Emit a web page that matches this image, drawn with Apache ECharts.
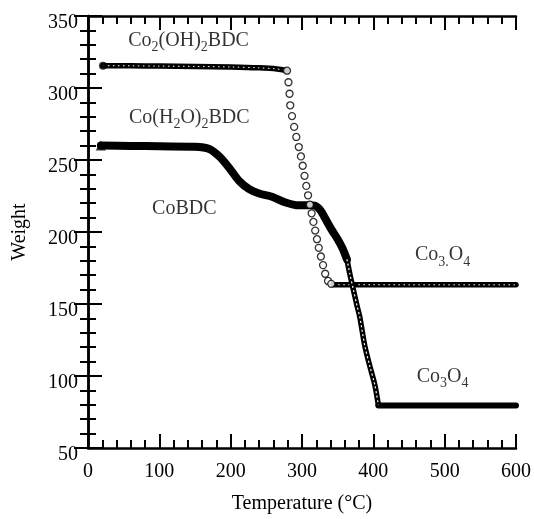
<!DOCTYPE html>
<html>
<head>
<meta charset="utf-8">
<script src="https://cdn.jsdelivr.net/npm/echarts@6/dist/echarts.min.js"></script>
<style>html,body{margin:0;padding:0;background:#fff;}#c{width:534px;height:519px;}</style>
</head>
<body>
<div id="c"></div>
<script>
// ---- Co2(OH)2BDC (open circles) ----
const ohPlateauT = [21, 60, 100, 150, 200, 240, 265, 279];
const ohPlateauW = [315.5, 315.4, 315.2, 315.0, 314.6, 314.0, 313.2, 312.0];
const ohDropT = [281, 282.5, 283.5, 286, 289, 292, 295.5, 298.5, 301, 303.5, 306, 308.5, 311, 313.5, 316, 318.5, 321, 323.5, 326.5, 329.5, 332.5, 336.5, 341];
const ohDropW = [304, 296, 288, 280.5, 273, 266, 259, 252.5, 246, 239, 232, 225.5, 219, 213, 207, 201, 195, 189, 183, 177, 171, 166, 164];
const ohFinalT = [344, 400, 450, 500, 550, 600];
const ohFinalW = [163.4, 163.4, 163.3, 163.3, 163.3, 163.3];

// ---- Co(H2O)2BDC (triangles) ----
const h2oSmoothT = [18, 60, 100, 150, 170, 184, 198, 212, 226, 240, 258, 277, 295, 310, 318, 326, 333, 341, 350, 357, 363];
const h2oSmoothW = [260, 259.8, 259.5, 259.2, 257.7, 252.5, 244.5, 235.4, 229.7, 226.7, 224.5, 220.5, 218.5, 218.5, 218.3, 215, 209, 202, 195, 188.5, 181];
const h2oSteepT = [363, 367, 372, 377, 381, 388, 395, 402, 407];
const h2oSteepW = [181, 171, 160, 149, 141, 121, 107, 94, 80];
const h2oFinalT = [407, 450, 500, 550, 600];
const h2oFinalW = [79.6, 79.6, 79.5, 79.5, 79.5];

// ---- axis ticks ----
const xTicks = [0, 100, 200, 300, 400, 500, 600];
const yTicks = [50, 100, 150, 200, 250, 300, 350];

// ---- labels ----
const noteTexts = [
  '{m|Co}{s|2}{m|(OH)}{s|2}{m|BDC}',
  '{m|Co(H}{s|2}{m|O)}{s|2}{m|BDC}',
  '{m|CoBDC}',
  '{m|Co}{s|3.}{m|O}{s|4}',
  '{m|Co}{s|3}{m|O}{s|4}'
];

const zip = (a, b) => a.map((v, i) => [v, b[i]]);
const FONT = 'Liberation Serif';

const notePos = [[141, 333], [142, 279.5], [135, 216.4], [497, 184], [497, 99.5]];

function axisCommon(showLabel) {
  return {
    type: 'value',
    axisLine: { show: true, lineStyle: { color: '#000', width: 2.5 } },
    axisTick: { show: true, inside: true, length: 14, lineStyle: { color: '#000', width: 2 } },
    minorTick: { show: true, splitNumber: 5, length: 8, lineStyle: { color: '#000', width: 2 } },
    splitLine: { show: false },
    axisLabel: { show: showLabel, fontFamily: FONT, fontSize: 20, color: '#000' }
  };
}

const xb = Object.assign(axisCommon(true), {
  min: xTicks[0], max: xTicks[xTicks.length - 1], interval: 100, position: 'bottom',
  name: 'Temperature (°C)', nameLocation: 'middle', nameGap: 46,
  nameTextStyle: { fontFamily: FONT, fontSize: 20, color: '#000' }
});
xb.axisLabel.margin = 14;
const xt = Object.assign(axisCommon(false), { min: xTicks[0], max: xTicks[xTicks.length - 1], interval: 100, position: 'top' });
const yl = Object.assign(axisCommon(true), {
  min: yTicks[0], max: yTicks[yTicks.length - 1], interval: 50, position: 'left',
  name: 'Weight', nameLocation: 'middle', nameGap: 58,
  nameTextStyle: { fontFamily: FONT, fontSize: 20, color: '#000' }
});
yl.axisLabel.margin = 10;
yl.axisLabel.verticalAlign = 'top';
yl.axisLabel.lineHeight = 14;
const yr = Object.assign(axisCommon(false), { min: yTicks[0], max: yTicks[yTicks.length - 1], interval: 50, position: 'right' });

function thick(data, w, z) {
  return { type: 'line', data: data, showSymbol: false, symbol: 'none', smooth: 0.3, z: z,
    lineStyle: { color: '#000', width: w, cap: 'round', join: 'round' }, silent: true, animation: false };
}
function texture(data, w, dash, z) {
  return { type: 'line', data: data, showSymbol: false, symbol: 'none', smooth: 0.3, z: z,
    lineStyle: { color: '#fff', width: w, type: dash, cap: 'butt' }, silent: true, animation: false };
}

const option = {
  animation: false,
  backgroundColor: '#fff',
  grid: { left: 88, right: 15, top: 16, bottom: 65 },
  xAxis: [xb, xt],
  yAxis: [yl, yr],
  series: [
    thick(zip(h2oSmoothT, h2oSmoothW), 8, 2),
    thick(zip(h2oFinalT, h2oFinalW), 6, 2),
    thick(zip(ohPlateauT, ohPlateauW), 5.5, 3),
    texture(zip(ohPlateauT, ohPlateauW), 1, [1.5, 3.5], 3),
    thick(zip(ohFinalT, ohFinalW), 5.5, 3),
    texture(zip(ohFinalT, ohFinalW), 1, [1.5, 3.5], 3),
    thick(zip(h2oSteepT, h2oSteepW), 5.5, 4),
    texture(zip(h2oSteepT, h2oSteepW), 1.2, [2, 2.5], 4),
    { type: 'scatter', data: [[h2oSmoothT[0], h2oSmoothW[0]]], symbol: 'triangle', symbolSize: 10,
      itemStyle: { color: '#000' }, z: 5, silent: true },
    { type: 'scatter', data: [[ohPlateauT[0], ohPlateauW[0]]], symbol: 'circle', symbolSize: 8,
      itemStyle: { color: '#000' }, z: 5, silent: true },
    { type: 'scatter', data: zip(ohDropT, ohDropW).concat([[ohPlateauT[ohPlateauT.length - 1], ohPlateauW[ohPlateauW.length - 1]]]),
      symbol: 'circle', symbolSize: 7,
      itemStyle: { color: '#fff', borderColor: '#000', borderWidth: 1.3 }, z: 6, silent: true },
    { type: 'scatter', symbolSize: 0, z: 7, silent: true,
      data: notePos.map((p, i) => ({ value: p, label: { formatter: noteTexts[i] } })),
      label: { show: true, position: 'inside', color: '#000',
        rich: {
          m: { fontFamily: FONT, fontSize: 20, color: '#000', lineHeight: 24 },
          s: { fontFamily: FONT, fontSize: 14, color: '#000', lineHeight: 14, padding: [14, 0, 0, 0] }
        } } }
  ]
};

const chart = echarts.init(document.getElementById('c'), null, { renderer: 'canvas' });
chart.setOption(option);
</script>
</body>
</html>
